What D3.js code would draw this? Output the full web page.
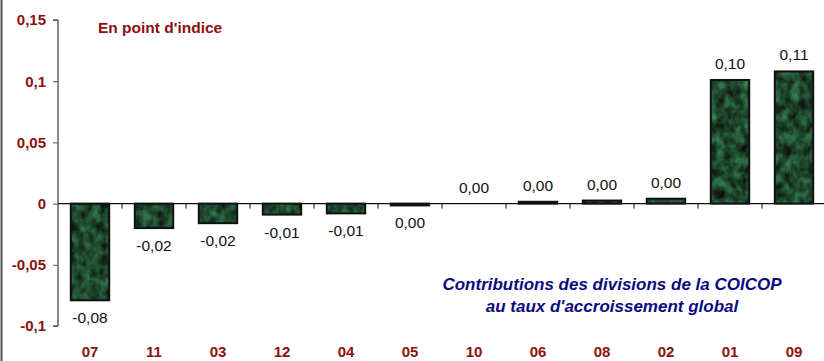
<!DOCTYPE html>
<html>
<head>
<meta charset="utf-8">
<script src="https://cdn.jsdelivr.net/npm/d3@7"></script>
<style>
  html, body { margin: 0; padding: 0; background: #fff; }
  svg { display: block; }
</style>
</head>
<body>
<svg id="chart" width="824" height="361"></svg>
<script>
// COICOP divisions, ordered from lowest to highest contribution
const divisions = ["07", "11", "03", "12", "04", "05", "10", "06", "08", "02", "01", "09"];
// Contribution to the overall growth rate, in index points
const contributions = [-0.079, -0.020, -0.016, -0.009, -0.008, -0.0015, 0.000, 0.0015, 0.0025, 0.004, 0.101, 0.108];
const yTicks = [-0.1, -0.05, 0, 0.05, 0.1, 0.15];
const unitLabel = "En point d'indice";
const captionLines = ["Contributions des divisions de la COICOP", "au taux d'accroissement global"];

const frLocale = d3.formatLocale({ decimal: ",", thousands: " ", grouping: [3], currency: ["", " €"], minus: "-" });
const fmtValue = frLocale.format(".2f");
const fmtTick = v => frLocale.format("")(+v.toFixed(2));

const svg = d3.select("#chart");
const W = 824, H = 361;
const m = { left: 58, right: -2, top: 20, bottom: 35 };
const FONT = "Liberation Sans, Arial, sans-serif";

const x = d3.scaleBand().domain(divisions).range([m.left, W - m.right]).paddingInner(0.4).paddingOuter(0.2);
const y = d3.scaleLinear().domain([-0.1, 0.15]).range([H - m.bottom, m.top]);

const red = "#8b1010";

// Marbled dark green fill for the bars
const defs = svg.append("defs");
const f = defs.append("filter").attr("id", "marble").attr("x", 0).attr("y", 0).attr("width", 1).attr("height", 1)
  .attr("filterUnits", "objectBoundingBox").attr("color-interpolation-filters", "sRGB");
f.append("feTurbulence").attr("type", "fractalNoise").attr("baseFrequency", "0.12 0.09").attr("numOctaves", 4).attr("seed", 11).attr("result", "noise");
f.append("feColorMatrix").attr("in", "noise").attr("type", "matrix")
  .attr("values", "0.24 0 0 0 0.0  0.62 0 0 0 -0.03  0.38 0 0 0 -0.015  0 0 0 0 1").attr("result", "col");
f.append("feComposite").attr("in", "col").attr("in2", "SourceGraphic").attr("operator", "in");

// Left frame edge
svg.append("line").attr("x1", 1.5).attr("x2", 1.5).attr("y1", 0).attr("y2", H)
  .attr("stroke", "#555").attr("stroke-width", 2);

// Bars
const bars = svg.append("g");
divisions.forEach((d, i) => {
  const v = contributions[i];
  const y0 = y(0), y1 = y(v);
  const top = Math.min(y0, y1), h = Math.abs(y1 - y0);
  if (h > 0) {
    bars.append("rect").attr("x", x(d)).attr("y", top).attr("width", x.bandwidth()).attr("height", h)
      .attr("fill", "#1d4a2c").attr("filter", "url(#marble)");
    bars.append("rect").attr("x", x(d)).attr("y", top).attr("width", x.bandwidth()).attr("height", h)
      .attr("fill", "none").attr("stroke", "#111").attr("stroke-width", 2);
  }
});

// Y axis
const yAxis = svg.append("g").attr("transform", `translate(${m.left},0)`)
  .call(d3.axisLeft(y).tickValues(yTicks).tickFormat(fmtTick).tickSize(5).tickPadding(7));
yAxis.select(".domain").attr("stroke", "#111").attr("d", `M-5,${y(0.15)}H0V${y(-0.1)}H-5`);
yAxis.selectAll(".tick line").attr("stroke", "#555");
yAxis.selectAll(".tick text").attr("fill", red).attr("font-family", FONT)
  .attr("font-size", 15).attr("font-weight", "bold");

// X axis at zero with separators between categories
const xAxis = svg.append("g").attr("transform", `translate(0,${y(0)})`);
xAxis.append("line").attr("x1", m.left).attr("x2", W).attr("y1", 0).attr("y2", 0).attr("stroke", "#111").attr("stroke-width", 1.2);
const step = x.step();
divisions.slice(1).forEach(d => {
  const bx = x(d) - step * x.paddingInner() / 2;
  xAxis.append("line").attr("x1", bx).attr("x2", bx).attr("y1", 0).attr("y2", 5).attr("stroke", "#111");
});

// Category labels along the bottom
svg.append("g").selectAll("text").data(divisions).join("text")
  .attr("x", d => x(d) + x.bandwidth() / 2).attr("y", 357)
  .attr("text-anchor", "middle").attr("fill", red)
  .attr("font-family", FONT).attr("font-size", 15).attr("font-weight", "bold")
  .text(d => d);

// Value labels
svg.append("g").selectAll("text").data(divisions).join("text")
  .attr("x", d => x(d) + x.bandwidth() / 2)
  .attr("y", (d, i) => contributions[i] < 0 ? y(contributions[i]) + 23 : y(contributions[i]) - 11)
  .attr("text-anchor", "middle").attr("fill", "#111")
  .attr("font-family", FONT).attr("font-size", 15.5)
  .text((d, i) => fmtValue(contributions[i]));

// Unit note
svg.append("text").attr("x", 98).attr("y", 33).attr("fill", red)
  .attr("font-family", FONT).attr("font-size", 15.5).attr("font-weight", "bold")
  .text(unitLabel);

// Caption
svg.append("g").selectAll("text").data(captionLines).join("text")
  .attr("x", 612).attr("y", (d, i) => 290 + i * 22)
  .attr("text-anchor", "middle").attr("fill", "#0a0a80")
  .attr("font-family", FONT).attr("font-size", 17)
  .attr("font-weight", "bold").attr("font-style", "italic")
  .text(d => d);
</script>
</body>
</html>
